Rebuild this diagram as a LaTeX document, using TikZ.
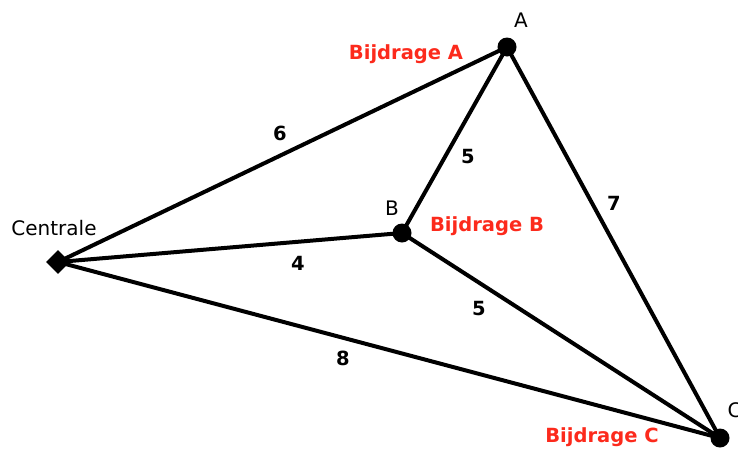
\documentclass[tikz,border=0pt]{standalone}
\usepackage{fontspec}
\setmainfont{DejaVu Sans}
\usetikzlibrary{shapes.geometric}
\definecolor{bred}{RGB}{252,42,28}
\begin{document}
\begin{tikzpicture}[x=1pt,y=-1pt,
  vdot/.style={circle,fill=black,inner sep=0pt,minimum size=19pt},
  hub/.style={diamond,fill=black,inner sep=0pt,minimum size=24pt},
  link/.style={line width=4pt},
  vlabel/.style={font=\fontsize{20}{22}\selectfont},
  wt/.style={font=\fontsize{19.5}{22}\selectfont\bfseries},
  contrib/.style={font=\fontsize{19.5}{22}\selectfont\bfseries,text=bred}]
\useasboundingbox (0,0) rectangle (738,450);
\node[hub] (cen) at (58,262) {};
\node[vdot] (A) at (507,47) {};
\node[vdot] (B) at (402,233) {};
\node[vdot] (C) at (720,438) {};
\draw[link] (cen.center) -- (A.center);
\draw[link] (cen.center) -- (B.center);
\draw[link] (cen.center) -- (C.center);
\draw[link] (B.center) -- (A.center);
\draw[link] (B.center) -- (C.center);
\draw[link] (A.center) -- (C.center);
\node[vlabel] (lcen) at (54,228) {Centrale};
\node[vlabel] (lA) at (521,20) {A};
\node[vlabel] (lB) at (392,208) {B};
\node[vlabel,anchor=west] (lC) at (724,410) {C};
\node[contrib] (bA) at (406,54) {Bijdrage A};
\node[contrib] (bB) at (487,226) {Bijdrage B};
\node[contrib] (bC) at (602,437) {Bijdrage C};
\node[wt] (w1) at (280,133) {6};
\node[wt] (w2) at (468,157) {5};
\node[wt] (w3) at (614,203) {7};
\node[wt] (w4) at (298,263) {4};
\node[wt] (w5) at (479,309) {5};
\node[wt] (w6) at (343,358) {8};
\end{tikzpicture}
\end{document}
